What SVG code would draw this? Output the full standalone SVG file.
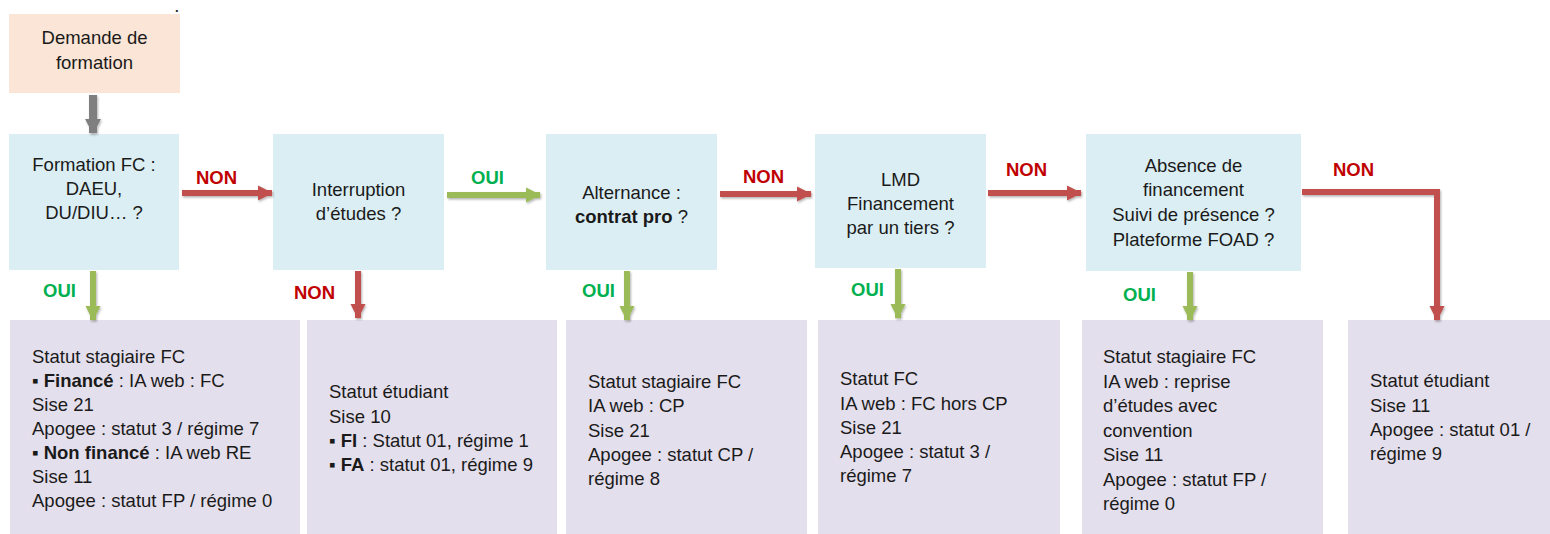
<svg xmlns="http://www.w3.org/2000/svg" width="1550" height="534" viewBox="0 0 1550 534">
<style>
text{font-family:"Liberation Sans",Arial,sans-serif;font-size:18.5px;fill:#1a1a1a}
.c{text-anchor:middle}
.b{font-weight:bold}
.non{font-weight:bold;fill:#C00000}
.oui{font-weight:bold;fill:#00B050}
.dec{fill:#DAEEF3}
.res{fill:#E4DFEC}
.red{stroke:#C0504D;stroke-width:6;fill:none}
.grn{stroke:#9BBB59;stroke-width:6;fill:none}
.gry{stroke:#7F7F7F;stroke-width:8;fill:none}
</style>
<defs>
<marker id="hr" markerUnits="userSpaceOnUse" markerWidth="16" markerHeight="18" refX="14" refY="9" orient="auto"><path d="M0,1.5 L15,9 L0,16.5 Z" fill="#C0504D"/></marker>
<marker id="hg" markerUnits="userSpaceOnUse" markerWidth="16" markerHeight="18" refX="14" refY="9" orient="auto"><path d="M0,1.5 L15,9 L0,16.5 Z" fill="#9BBB59"/></marker>
<marker id="hk" markerUnits="userSpaceOnUse" markerWidth="16" markerHeight="18" refX="14" refY="9" orient="auto"><path d="M0,1 L15,9 L0,17 Z" fill="#7F7F7F"/></marker>
<filter id="sh" x="-20%" y="-20%" width="140%" height="140%"><feDropShadow dx="1" dy="1.5" stdDeviation="1.2" flood-opacity="0.3"/></filter>
</defs>
<text x="175" y="12" style="font-size:13px;font-weight:bold">.</text>
<g id="demande"><rect x="9" y="14" width="171" height="79" fill="#FBE5D6"/><text class="c" x="94.5" y="44">Demande de</text><text class="c" x="94.5" y="69">formation</text></g>
<g id="q1"><rect class="dec" x="9" y="134" width="170" height="136"/><text class="c" x="94" y="171">Formation FC :</text><text class="c" x="94" y="195">DAEU,</text><text class="c" x="94" y="219">DU/DIU… ?</text></g>
<g id="q2"><rect class="dec" x="273" y="134" width="171" height="136"/><text class="c" x="358.5" y="196">Interruption</text><text class="c" x="358.5" y="220">d’études ?</text></g>
<g id="q3"><rect class="dec" x="546" y="134" width="171" height="136"/><text class="c" x="631.5" y="199">Alternance :</text><text class="c" x="631.5" y="223"><tspan class="b">contrat pro</tspan> ?</text></g>
<g id="q4"><rect class="dec" x="815" y="134" width="171" height="134"/><text class="c" x="900.5" y="186">LMD</text><text class="c" x="900.5" y="210">Financement</text><text class="c" x="900.5" y="234">par un tiers ?</text></g>
<g id="q5"><rect class="dec" x="1086" y="134" width="215" height="137"/><text class="c" x="1193.5" y="172">Absence de</text><text class="c" x="1193.5" y="196">financement</text><text class="c" x="1193.5" y="221">Suivi de présence ?</text><text class="c" x="1193.5" y="246">Plateforme FOAD ?</text></g>
<g id="rA"><rect class="res" x="10" y="320" width="290" height="214"/><text x="32" y="363">Statut stagiaire FC</text><text x="32" y="387">▪ <tspan class="b">Financé</tspan> : IA web : FC</text><text x="32" y="411">Sise 21</text><text x="32" y="435">Apogee : statut 3 / régime 7</text><text x="32" y="459">▪ <tspan class="b">Non financé</tspan> : IA web RE</text><text x="32" y="483">Sise 11</text><text x="32" y="507">Apogee : statut FP / régime 0</text></g>
<g id="rB"><rect class="res" x="307" y="320" width="250" height="214"/><text x="329" y="398">Statut étudiant</text><text x="329" y="423">Sise 10</text><text x="329" y="447">▪ <tspan class="b">FI</tspan> : Statut 01, régime 1</text><text x="329" y="471">▪ <tspan class="b">FA</tspan> : statut 01, régime 9</text></g>
<g id="rC"><rect class="res" x="566" y="320" width="241" height="214"/><text x="588" y="388">Statut stagiaire FC</text><text x="588" y="412">IA web : CP</text><text x="588" y="437">Sise 21</text><text x="588" y="461">Apogee : statut CP /</text><text x="588" y="485">régime 8</text></g>
<g id="rD"><rect class="res" x="818" y="320" width="242" height="214"/><text x="840" y="385">Statut FC</text><text x="840" y="410">IA web : FC hors CP</text><text x="840" y="434">Sise 21</text><text x="840" y="458">Apogee : statut 3 /</text><text x="840" y="482">régime 7</text></g>
<g id="rE"><rect class="res" x="1082" y="320" width="241" height="214"/><text x="1103" y="363">Statut stagiaire FC</text><text x="1103" y="388">IA web : reprise</text><text x="1103" y="412">d’études avec</text><text x="1103" y="437">convention</text><text x="1103" y="461">Sise 11</text><text x="1103" y="486">Apogee : statut FP /</text><text x="1103" y="510">régime 0</text></g>
<g id="rF"><rect class="res" x="1348" y="320" width="202" height="214"/><text x="1370" y="387">Statut étudiant</text><text x="1370" y="412">Sise 11</text><text x="1370" y="436">Apogee : statut 01 /</text><text x="1370" y="460">régime 9</text></g>
<g id="connectors" filter="url(#sh)">
<line class="gry" x1="93" y1="95" x2="93" y2="133" marker-end="url(#hk)"/>
<line class="red" x1="182" y1="193" x2="272" y2="193" marker-end="url(#hr)"/>
<line class="grn" x1="447" y1="195" x2="540" y2="195" marker-end="url(#hg)"/>
<line class="red" x1="720" y1="194" x2="811" y2="194" marker-end="url(#hr)"/>
<line class="red" x1="988" y1="193" x2="1081" y2="193" marker-end="url(#hr)"/>
<polyline class="red" points="1302,192 1437,192 1437,320" marker-end="url(#hr)"/>
<line class="grn" x1="93" y1="271" x2="93" y2="320" marker-end="url(#hg)"/>
<line class="red" x1="358" y1="271" x2="358" y2="318" marker-end="url(#hr)"/>
<line class="grn" x1="627" y1="271" x2="627" y2="320" marker-end="url(#hg)"/>
<line class="grn" x1="898" y1="269" x2="898" y2="318" marker-end="url(#hg)"/>
<line class="grn" x1="1190" y1="272" x2="1190" y2="320" marker-end="url(#hg)"/>
</g>
<g id="labels">
<text class="non" x="196" y="184">NON</text>
<text class="oui" x="471" y="184">OUI</text>
<text class="non" x="743" y="183">NON</text>
<text class="non" x="1006" y="176">NON</text>
<text class="non" x="1333" y="176">NON</text>
<text class="oui" x="43" y="297">OUI</text>
<text class="non" x="294" y="299">NON</text>
<text class="oui" x="582" y="297">OUI</text>
<text class="oui" x="851" y="296">OUI</text>
<text class="oui" x="1123" y="301">OUI</text>
</g>
</svg>
